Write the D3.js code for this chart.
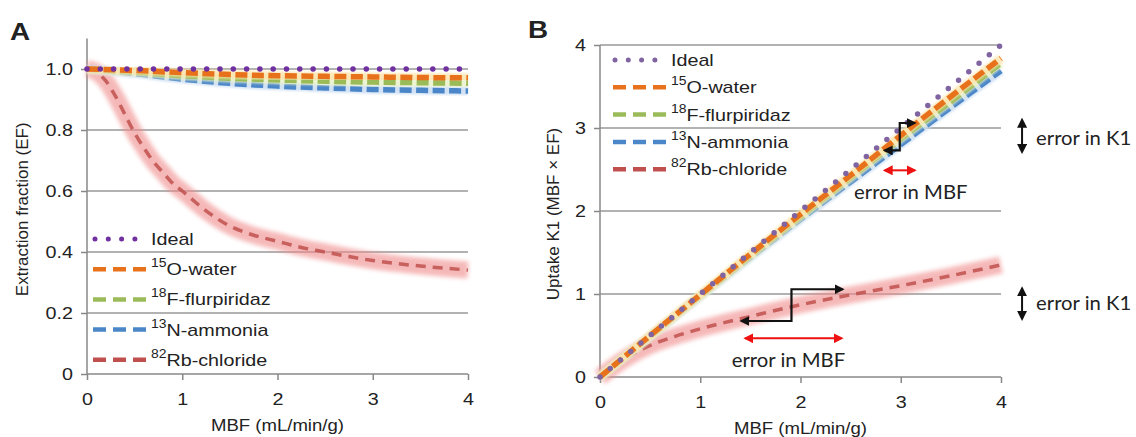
<!DOCTYPE html>
<html>
<head>
<meta charset="utf-8">
<script src="https://cdn.jsdelivr.net/npm/d3@7"></script>
<style>
    body { margin: 0; background: #fff; }
    svg text { font-family: Arial, "Liberation Sans", sans-serif; fill: #222; }
    .note { font-family: Lato, "Open Sans", sans-serif; }
</style>
</head>
<body>
<div id="chart"></div>
<script>
// ---- data ----
// panel A: extraction fraction vs MBF
let mbfA = [0, 0.5, 1, 1.5, 2, 2.5, 3, 3.5, 4];
let efIdeal = [1, 1, 1, 1, 1, 1, 1, 1, 1];
let efWater = [1, 0.995, 0.988, 0.982, 0.978, 0.976, 0.974, 0.972, 0.971];
let efFlurp = [1, 0.99, 0.978, 0.97, 0.964, 0.96, 0.957, 0.955, 0.953];
let efAmmonia = [1, 0.985, 0.967, 0.953, 0.944, 0.938, 0.933, 0.93, 0.928];
let mbfRb = [0, 0.1, 0.2, 0.3, 0.4, 0.5, 0.6, 0.7, 0.8, 0.9, 1, 1.25, 1.5, 1.75, 2, 2.25, 2.5, 2.75, 3, 3.25, 3.5, 3.75, 4];
let efRb = [1, 0.99, 0.96, 0.91, 0.85, 0.79, 0.74, 0.695, 0.66, 0.625, 0.6, 0.535, 0.485, 0.455, 0.435, 0.415, 0.4, 0.385, 0.372, 0.362, 0.354, 0.347, 0.341];

// panel B: uptake K1 vs MBF
let mbfB = [0, 0.5, 1, 1.5, 2, 2.5, 3, 3.5, 4];
let k1Ideal = [0, 0.5, 1, 1.5, 2, 2.5, 3, 3.5, 4];
let k1Water = [0, 0.5, 0.99, 1.48, 1.96, 2.43, 2.91, 3.38, 3.84];
let k1Flurp = [0, 0.49, 0.98, 1.46, 1.93, 2.4, 2.87, 3.32, 3.78];
let k1Ammonia = [0, 0.49, 0.97, 1.44, 1.9, 2.35, 2.8, 3.25, 3.69];
let mbfRbB = [0, 0.25, 0.5, 0.75, 1, 1.5, 2, 2.5, 3, 3.5, 4];
let k1Rb = [0, 0.22, 0.38, 0.49, 0.58, 0.73, 0.87, 0.99, 1.1, 1.22, 1.35];

let tracerNames = ["Ideal", "O-water", "F-flurpiridaz", "N-ammonia", "Rb-chloride"];
let tracerIsotopes = ["", "15", "18", "13", "82"];

let ticksA_y = [0, 0.2, 0.4, 0.6, 0.8, 1.0];
let ticksB_y = [0, 1, 2, 3, 4];
let ticksX = [0, 1, 2, 3, 4];

// annotations on panel B (data units)
let stepArrows = [
    [[2.84, 2.73], [2.99, 2.73], [2.99, 3.06], [3.14, 3.06]],
    [[1.41, 0.675], [1.91, 0.675], [1.91, 1.057], [2.42, 1.057]]
];
let mbfErrArrows = [[2.84, 3.14, 2.49], [1.45, 2.41, 0.466]];
let k1ErrArrows = [[4.21, 2.71, 3.10], [4.21, 0.70, 1.07]];
let mbfErrLabels = [[3.1, 2.23], [1.88, 0.205]];
let k1ErrLabels = [[4.35, 2.88], [4.35, 0.89]];

// ---- styling per tracer ----
let tracerStyle = [
    {color: "#7030a0", colorB: "#8064a2", dash: "0 13.3", width: 5.5, halo: null},
    {color: "#e8721c", colorB: "#e8721c", dash: "12 4.5", width: 5.5, halo: "#fde3a8"},
    {color: "#9bbb59", colorB: "#9bbb59", dash: "12 4.5", width: 5.5, halo: "#e9f2c8"},
    {color: "#4a86c8", colorB: "#4a86c8", dash: "12 4.5", width: 5.5, halo: "#c8dcf2"},
    {color: "#c0504d", colorB: "#c0504d", dash: "10 7", width: 3.5, halo: "#f08a8a"}
];

// the source figure is stretched sideways a little
let sx = 1.16;
let sxNote = 1.04;

let svg = d3.select("#chart").append("svg")
    .attr("width", 1136)
    .attr("height", 437);

let defs = svg.append("defs");
defs.append("filter").attr("id", "blur").attr("x", "-20%").attr("y", "-20%").attr("width", "140%").attr("height", "140%")
    .append("feGaussianBlur").attr("stdDeviation", 2.2);
defs.append("filter").attr("id", "blurSmall").attr("x", "-20%").attr("y", "-20%").attr("width", "140%").attr("height", "140%")
    .append("feGaussianBlur").attr("stdDeviation", 1.2);

function addMarker(id, color) {
    defs.append("marker")
        .attr("id", id)
        .attr("viewBox", "0 0 10 10")
        .attr("refX", 8).attr("refY", 5)
        .attr("markerUnits", "userSpaceOnUse")
        .attr("markerWidth", 10).attr("markerHeight", 10)
        .attr("orient", "auto-start-reverse")
        .append("path")
        .attr("d", "M0,0 L10,5 L0,10 z")
        .attr("fill", color);
}
addMarker("headBlack", "#111");
addMarker("headRed", "#ee1111");

// text placed at (x, y), widened by a factor
function stretchText(parent, x, y, size, str, k) {
    return parent.append("text")
        .attr("transform", `translate(${x},${y}) scale(${k || sx},1)`)
        .style("font-size", size + "px")
        .text(str);
}

// ---- one panel ----
function drawPanel(cfg) {
    let x = d3.scaleLinear().domain([0, 4]).range([cfg.left, cfg.right]);
    let y = d3.scaleLinear().domain(cfg.yDomain).range([cfg.bottom, cfg.top]);

    let g = svg.append("g");

    // gridlines
    g.selectAll(".grid")
        .data(cfg.yTicks.filter(d => d > 0))
        .enter().append("line")
        .attr("x1", x(0)).attr("x2", x(4))
        .attr("y1", d => y(d)).attr("y2", d => y(d))
        .attr("stroke", "#999").attr("stroke-width", 1.5);

    // axes
    let yAxis = d3.axisLeft(y).tickValues(cfg.yTicks).tickFormat(cfg.yFormat).tickSize(6).tickPadding(8);
    let xAxis = d3.axisBottom(x).tickValues(ticksX).tickFormat(d3.format("d")).tickSize(6).tickPadding(13);

    let ya = g.append("g").attr("transform", `translate(${x(0)},0)`).call(yAxis);
    let xa = g.append("g").attr("transform", `translate(0,${y(0)})`).call(xAxis);
    [ya, xa].forEach(a => {
        a.select(".domain").attr("stroke", "#888").attr("stroke-width", 1.5);
        a.selectAll(".tick line").attr("stroke", "#888").attr("stroke-width", 1.5);
        a.selectAll(".tick text").style("font-size", "17px").attr("fill", "#222");
    });
    xa.selectAll(".tick text").attr("transform", `scale(${sx},1)`);
    ya.selectAll(".tick text").attr("x", -14 / sx).attr("transform", `scale(${sx},1)`);
    xa.select(".domain").attr("d", `M${x(0)},0H${x(4)}`);
    ya.select(".domain").attr("d", `M0,${y(cfg.yDomain[0])}V${y(cfg.yDomain[1])}`);

    // series
    let line = d3.line().x(d => x(d[0])).y(d => y(d[1])).curve(d3.curveMonotoneX);
    let order = [4, 3, 2, 1, 0];
    order.forEach(i => {
        let pts = cfg.xs[i].map((v, k) => [v, cfg.ys[i][k]]);
        let st = tracerStyle[i];
        if (st.halo) {
            g.append("path")
                .attr("d", line(pts))
                .attr("fill", "none")
                .attr("stroke", st.halo)
                .attr("stroke-width", i === 4 ? 17 : 8.5)
                .attr("opacity", i === 4 ? 0.6 : 0.8)
                .attr("filter", i === 4 ? "url(#blur)" : "url(#blurSmall)");
        }
        g.append("path")
            .attr("d", line(pts))
            .attr("fill", "none")
            .attr("stroke", cfg.panel === "B" ? st.colorB : st.color)
            .attr("stroke-width", st.width)
            .attr("stroke-dasharray", st.dash)
            .attr("stroke-linecap", i === 0 ? "round" : "butt")
            .attr("opacity", i === 4 ? 0.85 : 1);
    });

    // legend
    let leg = g.append("g");
    tracerNames.forEach((name, i) => {
        let ly = cfg.legY + i * cfg.legStep;
        let st = tracerStyle[i];
        leg.append("line")
            .attr("x1", cfg.legX + (i === 0 ? 2 : 0)).attr("x2", cfg.legX + 53)
            .attr("y1", ly).attr("y2", ly)
            .attr("stroke", cfg.panel === "B" ? st.colorB : st.color)
            .attr("stroke-width", i === 0 ? 5 : 4.5)
            .attr("stroke-dasharray", i === 0 ? "0 13.3" : "13 7")
            .attr("stroke-linecap", i === 0 ? "round" : "butt");
        let t = stretchText(leg, cfg.legX + 58, ly + 6, 17, null);
        if (tracerIsotopes[i]) {
            t.append("tspan").attr("dy", -8).style("font-size", "12px").text(tracerIsotopes[i]);
            t.append("tspan").attr("dy", 8).text(name);
        } else {
            t.text(name);
        }
    });

    // axis titles
    g.append("text")
        .attr("transform", `translate(${cfg.yTitleX},${(cfg.top + cfg.bottom) / 2 + 3}) rotate(-90)`)
        .attr("text-anchor", "middle")
        .style("font-size", "17px")
        .attr("fill", "#333")
        .text(cfg.yTitle);
    stretchText(g, (x(0) + x(4)) / 2, cfg.xTitleY, 16, "MBF (mL/min/g)")
        .attr("text-anchor", "middle")
        .attr("fill", "#333");

    // panel letter
    stretchText(g, cfg.letterX, cfg.letterY, 24, cfg.panel)
        .style("font-weight", "bold")
        .attr("fill", "#111");

    return {x: x, y: y, g: g};
}

drawPanel({
    panel: "A", left: 87, right: 468, top: 38.5, bottom: 374,
    yDomain: [0, 1.1], yTicks: ticksA_y,
    yFormat: d => d === 0 ? "0" : d3.format(".1f")(d),
    xs: [mbfA, mbfA, mbfA, mbfA, mbfRb],
    ys: [efIdeal, efWater, efFlurp, efAmmonia, efRb],
    legX: 93, legY: 239, legStep: 30.2,
    yTitle: "Extraction fraction (EF)", yTitleX: 28, xTitleY: 431,
    letterX: 10, letterY: 40
});

let pB = drawPanel({
    panel: "B", left: 600, right: 1001, top: 45, bottom: 377,
    yDomain: [0, 4], yTicks: ticksB_y,
    yFormat: d3.format("d"),
    xs: [mbfB, mbfB, mbfB, mbfB, mbfRbB],
    ys: [k1Ideal, k1Water, k1Flurp, k1Ammonia, k1Rb],
    legX: 613, legY: 60, legStep: 27.3,
    yTitle: "Uptake K1 (MBF \u00d7 EF)", yTitleX: 559, xTitleY: 434,
    letterX: 528, letterY: 38
});

// ---- annotations on B ----
let ax = pB.x, ay = pB.y, ag = pB.g;
let stepLine = d3.line().x(d => ax(d[0])).y(d => ay(d[1]));

ag.selectAll(".step")
    .data(stepArrows)
    .enter().append("path")
    .attr("d", d => stepLine(d))
    .attr("fill", "none")
    .attr("stroke", "#111")
    .attr("stroke-width", 2.2)
    .attr("marker-start", "url(#headBlack)")
    .attr("marker-end", "url(#headBlack)");

ag.selectAll(".mbfErr")
    .data(mbfErrArrows)
    .enter().append("line")
    .attr("x1", d => ax(d[0])).attr("x2", d => ax(d[1]))
    .attr("y1", d => ay(d[2])).attr("y2", d => ay(d[2]))
    .attr("stroke", "#ee1111")
    .attr("stroke-width", 2)
    .attr("marker-start", "url(#headRed)")
    .attr("marker-end", "url(#headRed)");

ag.selectAll(".k1Err")
    .data(k1ErrArrows)
    .enter().append("line")
    .attr("x1", d => ax(d[0])).attr("x2", d => ax(d[0]))
    .attr("y1", d => ay(d[1])).attr("y2", d => ay(d[2]))
    .attr("stroke", "#111")
    .attr("stroke-width", 2)
    .attr("marker-start", "url(#headBlack)")
    .attr("marker-end", "url(#headBlack)");

mbfErrLabels.forEach(d => {
    stretchText(ag, ax(d[0]), ay(d[1]) + 7, 19.5, "error in MBF", sxNote)
        .attr("class", "note")
        .attr("text-anchor", "middle");
});

k1ErrLabels.forEach(d => {
    stretchText(ag, ax(d[0]), ay(d[1]) + 7, 19.5, "error in K1", sxNote)
        .attr("class", "note");
});
</script>
</body>
</html>
